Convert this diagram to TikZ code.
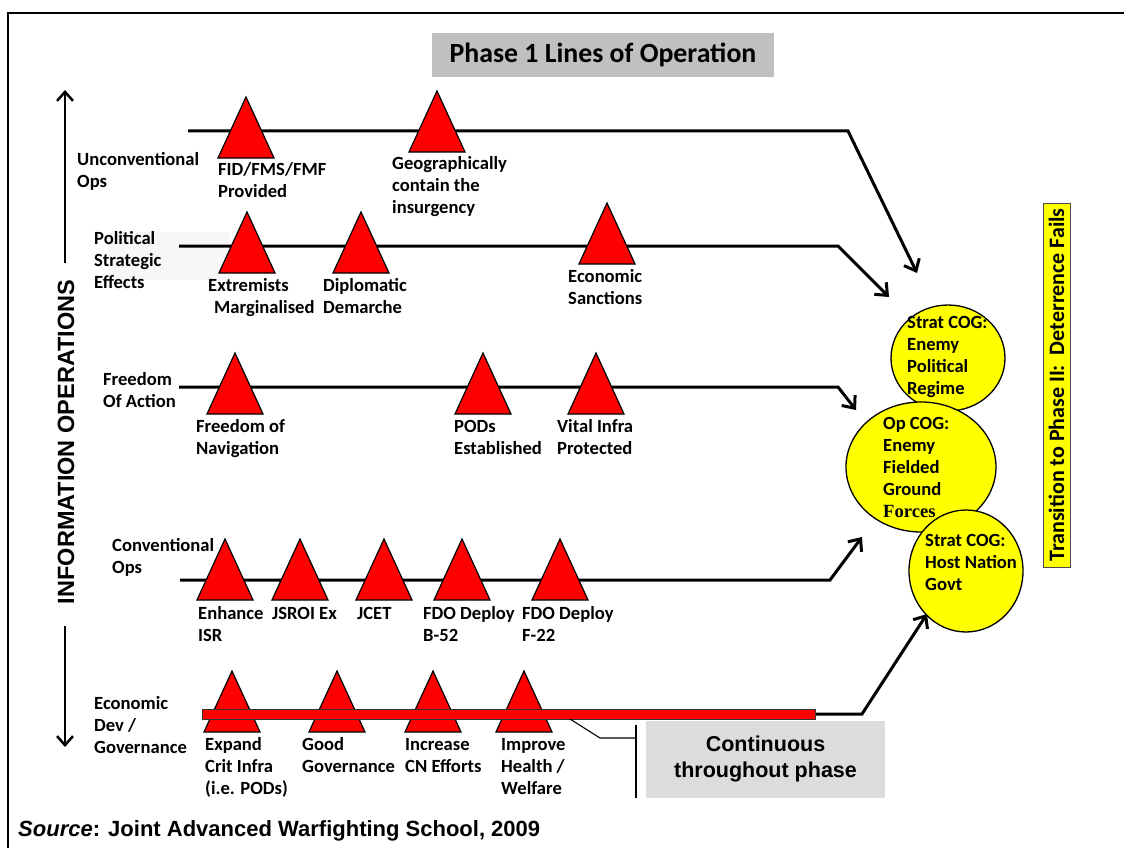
\documentclass[tikz,border=0pt]{standalone}
\usepackage{fontspec}
\setmainfont{Carlito}
\newfontfamily\arialfont{Liberation Sans}
\newfontfamily\timesfont{Liberation Serif}
\usetikzlibrary{arrows.meta,shapes.geometric}
\definecolor{titlegray}{RGB}{192,192,192}
\definecolor{notegray}{RGB}{220,220,220}
\definecolor{shadegray}{RGB}{247,247,247}
\definecolor{cogyellow}{RGB}{255,255,0}
\definecolor{msred}{RGB}{255,0,0}

% milestone triangle: apex x, apex y
\newcommand\milestone[2]{\draw[mstone] (#1-28,#2+61) -- (#1,#2) -- (#1+28,#2+61) -- cycle;}

\begin{document}
\begin{tikzpicture}[x=1pt,y=-1pt,
  % labels are positioned by the baseline of their last line
  lbl/.style={anchor=base west, align=left, inner sep=0pt, font=\bfseries\fontsize{18.6}{22}\selectfont},
  flow/.style={line width=3pt, line join=miter, -{Straight Barb[length=10pt,width=17pt]}},
  mstone/.style={fill=msred, draw=black, line width=1.2pt, line join=miter},
  cog/.style={ellipse, draw=black, line width=1.3pt, fill=cogyellow, inner sep=0pt},
  varrow/.style={line width=2.5pt, -{Straight Barb[length=9pt,width=16pt]}}
]
\useasboundingbox (0,0) rectangle (1124,848);

% frame
\draw[line width=2.5pt] (8,848) -- (8,13) -- (1124,13);

% title
\node[fill=titlegray, minimum width=342pt, minimum height=44pt, inner sep=0pt,
      font=\bfseries\fontsize{27.8}{30}\selectfont] (title) at (603,55) {Phase 1 Lines of Operation};

% information operations axis
\node[rotate=90, inner sep=0pt, font=\arialfont\bfseries\fontsize{23.5}{26}\selectfont]
  (infoops) at (66,442) {INFORMATION OPERATIONS};
\coordinate (upS) at (65,263);
\coordinate (upT) at (65,90);
\coordinate (dnS) at (65,626);
\coordinate (dnT) at (65,747);
\draw[varrow] (upS) -- (upT);
\draw[varrow] (dnS) -- (dnT);

% faint panel behind the political label
\fill[shadegray] (108,232) rectangle (230,280);

% line coordinates
\coordinate (r1a) at (188,131); \coordinate (r1b) at (848,131); \coordinate (r1c) at (917,273);
\coordinate (r2a) at (179,246); \coordinate (r2b) at (838,246); \coordinate (r2c) at (889,297);
\coordinate (r3a) at (179,387); \coordinate (r3b) at (838,387); \coordinate (r3c) at (856,410);
\coordinate (r4a) at (180,580); \coordinate (r4b) at (830,580); \coordinate (r4c) at (862,537);
\coordinate (r5a) at (815,714); \coordinate (r5b) at (862,714); \coordinate (r5c) at (927,614);

\draw[flow] (r1a) -- (r1b) -- (r1c);
\draw[flow] (r2a) -- (r2b) -- (r2c);
\draw[flow] (r3a) -- (r3b) -- (r3c);
\draw[flow] (r4a) -- (r4b) -- (r4c);
\draw[flow] (r5a) -- (r5b) -- (r5c);

% milestones
\milestone{246}{97}\milestone{437}{91}
\milestone{247}{212}\milestone{361}{212}\milestone{607}{203}
\milestone{235}{353}\milestone{483}{353}\milestone{596}{353}
\milestone{225}{539}\milestone{300}{539}\milestone{384}{539}\milestone{462}{539}\milestone{560}{539}
\milestone{232}{671}\milestone{337}{671}\milestone{433}{671}\milestone{524}{671}

% continuous bar
\draw[fill=msred, draw=black!80, line width=0.8pt] (202,709) rectangle (815,719);

% callout
\coordinate (c1) at (570,719); \coordinate (c2) at (600,738); \coordinate (c3) at (636,738);
\coordinate (c4) at (636,725); \coordinate (c5) at (636,798);
\draw[line width=1.1pt] (c1) -- (c2) -- (c3);
\draw[line width=1.1pt] (c4) -- (c5);
\node[fill=notegray, minimum width=239pt, minimum height=77pt, inner sep=0pt, align=center,
      font=\arialfont\bfseries\fontsize{21.5}{26}\selectfont] (note) at (765.5,759) {Continuous\\throughout phase};

% line names
\node[lbl] (lUO) at (77,187) {Unconventional\\Ops};
\node[lbl] (lPS) at (94,288) {Political\\Strategic\\Effects};
\node[lbl] (lFA) at (103,407) {Freedom\\Of Action};
\node[lbl] (lCO) at (112,573) {Conventional\\Ops};
\node[lbl] (lED) at (94,753) {Economic\\Dev /\\Governance};

% milestone labels
\node[lbl] (m11) at (218,197) {FID/FMS/FMF\\Provided};
\node[lbl] (m12) at (392,213) {Geographically\\contain the\\insurgency};
\node[lbl] (m21) at (208,313) {Extremists\\\hspace*{6pt}Marginalised};
\node[lbl] (m22) at (323,313) {Diplomatic\\Demarche};
\node[lbl] (m23) at (568,304) {Economic\\Sanctions};
\node[lbl] (m31) at (196,454) {Freedom of\\Navigation};
\node[lbl] (m32) at (454,454) {PODs\\Established};
\node[lbl] (m33) at (557,454) {Vital Infra\\Protected};
\node[lbl] (m41) at (198,641) {Enhance\\ISR};
\node[lbl] (m42) at (272,619) {JSROI Ex};
\node[lbl] (m43) at (357,619) {JCET};
\node[lbl] (m44) at (423,641) {FDO Deploy\\B-52};
\node[lbl] (m45) at (522,641) {FDO Deploy\\F-22};
\node[lbl] (m51) at (205,794) {Expand\\Crit Infra\\(i.e. PODs)};
\node[lbl] (m52) at (302,772) {Good\\Governance};
\node[lbl] (m53) at (405,772) {Increase\\CN Efforts};
\node[lbl] (m54) at (501,794) {Improve\\Health /\\Welfare};

% centres of gravity
\node[cog, minimum width=114pt, minimum height=106pt] (cogA) at (948,358) {};
\node[lbl] (cogAt) at (907,394) {Strat COG:\\Enemy\\Political\\Regime};
\node[cog, minimum width=150pt, minimum height=130pt] (cogB) at (921,467) {};
\node[lbl] (cogBt) at (883,517) {Op COG:\\Enemy\\Fielded\\Ground\\{\timesfont\bfseries Forces}};
\node[cog, minimum width=114pt, minimum height=122pt] (cogC) at (966,571) {};
\node[lbl] (cogCt) at (925,590) {Strat COG:\\Host Nation\\Govt};

% phase transition
\node[rotate=90, fill=cogyellow, draw=black!70, line width=0.8pt, minimum width=364pt,
      minimum height=27pt, inner sep=0pt, font=\bfseries\fontsize{22}{24}\selectfont]
  (phase2) at (1056.5,385) {Transition to Phase II:\ \ Deterrence Fails};

% source
\node[anchor=base west, inner sep=0pt, font=\arialfont\bfseries\fontsize{22}{24}\selectfont]
  (src) at (18,836) {\textit{Source}: Joint Advanced Warfighting School, 2009};
\end{tikzpicture}
\end{document}
